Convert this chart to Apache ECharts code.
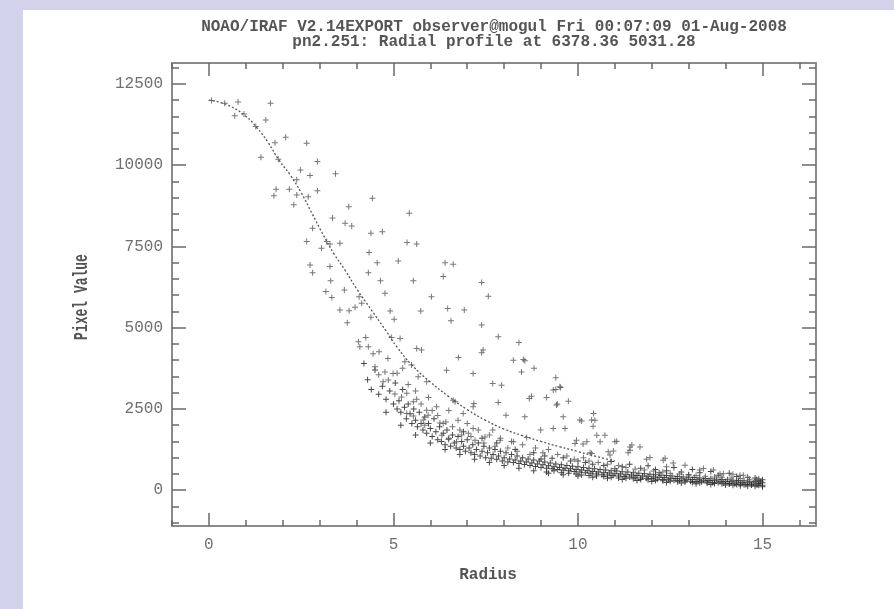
<!DOCTYPE html>
<html>
<head>
<meta charset="utf-8">
<script src="https://cdn.jsdelivr.net/npm/echarts@6/dist/echarts.min.js"></script>
<style>html,body{margin:0;padding:0;background:#d2d2ea;}#chart{width:894px;height:609px;}</style>
</head>
<body>
<div id="chart"></div>
<script>
// ---- data ----
const titleLine1 = 'NOAO/IRAF V2.14EXPORT observer@mogul Fri 00:07:09 01-Aug-2008';
const titleLine2 = 'pn2.251: Radial profile at 6378.36 5031.28';
const xAxisName = 'Radius';
const yAxisName = 'Pixel Value';
const xMajorTicks = [0, 5, 10, 15];
const xMinorTicks = [-1, 0, 1, 2, 3, 4, 5, 6, 7, 8, 9, 10, 11, 12, 13, 14, 15, 16];
const yMajorTicks = [0, 2500, 5000, 7500, 10000, 12500];
const yMinorTicks = [-1000, -500, 0, 500, 1000, 1500, 2000, 2500, 3000, 3500, 4000, 4500, 5000, 5500, 6000, 6500, 7000, 7500, 8000, 8500, 9000, 9500, 10000, 10500, 11000, 11500, 12000, 12500, 13000];

// scattered pixels (radius, value) – upper / middle part of the cloud
const outerPoints = [
[0.07,11990],[0.43,11900],[0.79,11940],[0.70,11520],[0.95,11570],[1.67,11900],[1.54,11390],[1.27,11190],
[1.79,10690],[2.08,10860],[2.65,10670],[1.41,10240],[1.88,10180],[2.94,10110],[2.48,9850],[2.74,9680],
[3.43,9730],[1.82,9260],[2.18,9260],[2.38,9550],[2.94,9210],[1.76,9060],[2.38,9080],[2.69,9030],
[2.30,8780],[3.79,8720],[4.43,8980],[3.35,8370],[3.69,8210],[3.87,8130],[2.81,8060],[4.39,7900],
[4.70,7950],[2.65,7650],[3.19,7650],[3.55,7600],[3.05,7440],[4.34,7310],[5.43,8520],[3.28,7570],
[5.37,7620],[5.63,7570],[4.56,7000],[5.13,7050],[6.40,7000],[6.62,6950],[2.74,6930],[2.81,6690],
[3.28,6880],[4.32,6690],[6.35,6570],[3.30,6440],[4.65,6440],[5.54,6440],[7.39,6390],[3.17,6110],
[3.33,5930],[3.67,6160],[4.77,6060],[4.07,5950],[6.03,5950],[7.57,5970],[3.55,5540],[3.80,5520],
[3.96,5630],[4.91,5510],[5.74,5510],[6.47,5590],[6.92,5540],[4.14,5750],[3.75,5150],[4.39,5320],
[5.02,5260],[6.56,5210],[7.39,5080],[4.95,4700],[5.18,4670],[7.84,4720],[8.40,4540],[4.05,4570],
[4.09,4410],[4.32,4410],[4.61,4260],[5.63,4360],[5.76,4310],[7.43,4310],[7.39,4230],[6.76,4080],
[8.25,4000],[8.52,4020],[8.56,3980],[4.50,3800],[4.77,3640],[4.99,3590],[5.31,3950],[5.49,3850],
[6.44,3690],[7.16,3590],[8.47,3640],[8.81,3750],[9.40,3460],[4.72,3340],[4.86,3390],[5.67,3490],
[5.90,3340],[7.69,3280],[7.93,3230],[9.40,3100],[9.53,3160],[9.33,3080],[9.51,3180],[5.04,2960],
[5.22,2870],[5.36,2980],[5.54,2720],[5.63,2800],[6.62,2770],[7.18,2670],[7.84,2700],[8.68,2820],
[8.74,2890],[9.15,2850],[9.44,2650],[9.74,2740],[9.42,2620],[5.36,2360],[5.54,2280],[5.90,2460],
[5.94,2310],[6.17,2570],[6.26,2070],[6.42,2100],[6.67,2720],[6.89,2360],[7.16,2570],[8.05,2310],
[8.56,2260],[8.99,1850],[9.33,1900],[9.65,1900],[10.05,2160],[10.37,2160],[10.42,2360],[9.60,2260],
[10.10,2130],[10.46,2150],[10.41,1970],[5.81,2160],[5.85,2000],[6.31,1690],[6.49,1560],[6.71,1490],
[6.80,1850],[7.03,1750],[7.16,1900],[7.21,1540],[7.48,1640],[7.69,1850],[7.89,1540],[8.25,1490],
[8.61,1620],[9.96,1540],[10.24,1490],[10.51,1690],[10.73,1690],[11.00,1490],[9.92,1440],[10.14,1420],
[10.37,1130],[11.46,1390],[11.68,1330],[10.87,1080],[11.36,1150],[11.86,950],[12.31,920],[12.58,840],
[12.90,770],[12.40,720],[13.30,620],[13.67,620],[13.85,510],[14.20,490],[14.48,460],[14.84,260],
[10.60,1490],[11.05,1510],[10.33,1150],[10.82,1180],[10.96,1210],[11.41,1330],[11.41,1230],[11.95,1010],
[12.36,980],[13.40,670],[13.94,510],[14.39,460],[14.84,330],
[4.25,4700],[4.45,4200],[4.6,3550],[4.85,4050],[5.1,3600],[5.25,3750],[5.4,3250],[5.6,3050],[5.75,2650],
[5.95,2850],[6.05,2450],[6.2,2300],[6.35,2050],[6.5,2450],[6.6,1950],[6.75,2150],[6.85,1700],[7.0,2050],
[7.1,1650],[7.3,1850],[7.45,1450],[7.6,1700],[7.75,1350],[7.9,1600],[8.1,1300],[8.2,1500],[8.35,1200],
[8.5,1400],[8.7,1100],[8.85,1300],[9.05,1150],[9.2,1250],[9.45,1100],[9.7,1050],[9.9,950],[10.15,1000],
[10.3,900],[10.55,850],[10.8,800],[11.1,760],[11.3,700],[11.55,650],[11.8,620],[12.05,590],[12.3,560],
[12.5,520],[12.75,500],[13.0,470],[13.2,450],[13.45,430],[13.7,410],[13.9,400],[14.15,380],[14.4,360],
[14.65,340],[14.9,350]
];

// dense lower band of the cloud
const bandPoints = [
[4.2,3900],[4.3,3400],[4.4,3100],[4.5,3700],[4.6,2950],[4.7,3200],[4.8,2800],[4.9,3050],[5.0,2650],[5.05,3300],
[5.1,2500],[5.15,2750],[5.2,2400],[5.25,3100],[5.3,2550],[5.35,2200],[5.4,2650],[5.45,2350],[5.5,2050],[5.55,2500],
[5.6,2150],[5.65,1950],[5.7,2400],[5.75,2050],[5.8,1850],[5.85,2250],[5.9,1750],[5.95,2050],[6.0,1900],[6.05,1650],
[6.1,2200],[6.15,1800],[6.2,1550],[6.25,1950],[6.3,1500],[6.35,1750],[6.4,1400],[6.45,1850],[6.5,1600],[6.55,1350],
[6.6,1700],[6.65,1450],[6.7,1300],[6.75,1650],[6.8,1250],[6.85,1500],[6.9,1350],[6.95,1200],[7.0,1550],[7.05,1300],
[7.1,1150],[7.15,1400],[7.2,1100],[7.25,1250],[7.3,1450],[7.35,1050],[7.4,1200],[7.45,1350],[7.5,1000],[7.55,1150],
[7.6,1300],[7.65,980],[7.7,1100],[7.75,1250],[7.8,950],[7.85,1050],[7.9,1200],[7.95,900],[8.0,1000],[8.05,1150],
[8.1,870],[8.15,960],[8.2,1100],[8.25,850],[8.3,930],[8.35,1050],[8.4,820],[8.45,900],[8.5,1000],[8.55,790],
[8.6,870],[8.65,960],[8.7,760],[8.75,840],[8.8,930],[8.85,730],[8.9,810],[8.95,900],[9.0,700],[9.05,780],
[9.1,870],[9.15,680],[9.2,750],[9.25,840],[9.3,660],[9.35,720],[9.4,810],[9.45,640],[9.5,700],[9.55,780],
[9.6,620],[9.65,680],[9.7,760],[9.75,600],[9.8,660],[9.85,740],[9.9,580],[9.95,640],[10.0,720],[10.05,560],
[10.1,620],[10.15,700],[10.2,540],[10.25,600],[10.3,680],[10.35,520],[10.4,580],[10.45,660],[10.5,500],[10.55,560],
[10.6,640],[10.65,480],[10.7,540],[10.75,620],[10.8,470],[10.85,530],[10.9,600],[10.95,450],[11.0,510],[11.05,590],
[11.1,440],[11.15,500],[11.2,570],[11.25,420],[11.3,480],[11.35,560],[11.4,410],[11.45,470],[11.5,540],[11.55,400],
[11.6,450],[11.65,520],[11.7,380],[11.75,440],[11.8,510],[11.85,370],[11.9,430],[11.95,490],[12.0,360],[12.05,410],
[12.1,480],[12.15,340],[12.2,400],[12.25,460],[12.3,330],[12.35,390],[12.4,450],[12.45,320],[12.5,370],[12.55,440],
[12.6,310],[12.65,360],[12.7,420],[12.75,300],[12.8,350],[12.85,410],[12.9,290],[12.95,340],[13.0,400],[13.05,280],
[13.1,330],[13.15,390],[13.2,270],[13.25,320],[13.3,380],[13.35,260],[13.4,310],[13.45,360],[13.5,250],[13.55,300],
[13.6,350],[13.65,240],[13.7,290],[13.75,340],[13.8,230],[13.85,280],[13.9,330],[13.95,220],[14.0,270],[14.05,320],
[14.1,210],[14.15,260],[14.2,310],[14.25,200],[14.3,250],[14.35,300],[14.4,190],[14.45,240],[14.5,290],[14.55,180],
[14.6,230],[14.65,280],[14.7,170],[14.75,220],[14.8,270],[14.85,160],[14.9,210],[14.95,260],[15.0,150],[15.0,230],
[15.0,320],[9.1,1050],[9.3,980],[9.6,1000],[9.8,900],[10.2,850],[10.4,800],[10.7,760],[10.9,880],[11.2,720],
[11.4,800],[11.7,680],[11.9,750],[12.1,640],[12.4,600],[12.6,700],[12.8,560],[13.1,640],[13.3,540],[13.6,580],
[13.8,460],[14.1,520],[14.3,420],[14.6,400],[14.8,380],[14.9,300],[13.0,480],[12.2,540],[11.0,660],[10.0,900],
[9.0,960],[8.8,1150],[8.3,1250],[7.8,1450],[7.4,1600],[6.9,1800],
[9.15,560],[9.35,600],[9.55,540],[9.75,520],[9.95,500],[10.1,470],[10.3,450],[10.5,440],[10.7,420],[10.9,400],
[11.1,380],[11.3,370],[11.5,350],[11.7,330],[11.9,320],[12.1,300],[12.3,290],[12.5,280],[12.7,260],[12.9,250],
[13.1,240],[13.3,230],[13.5,220],[13.7,210],[13.9,200],[14.1,190],[14.3,180],[14.5,170],[14.7,160],[14.9,150],
[15.0,110],[14.8,120],[14.6,130],[14.4,140],[14.2,150],[14.0,160],[13.6,180],[13.2,200],[12.8,220],[12.4,240],
[12.0,270],[11.6,300],[11.2,330],[10.8,370],[10.4,400],[10.0,440],[9.6,480],[9.2,520],[8.8,600],[8.4,680],
[8.0,760],[7.6,850],[7.2,950],[6.8,1100],[6.4,1250],[6.0,1450],[5.6,1700],[5.2,2000],[4.8,2400]
];

// fitted radial profile (dotted curve)
const fitCurve = [
[0,12000],[0.5,11850],[1.0,11500],[1.3,11150],[1.6,10700],[1.9,10150],[2.2,9700],[2.5,9150],[2.8,8500],
[3.1,7850],[3.4,7250],[3.7,6750],[4.0,6200],[4.4,5550],[4.8,4900],[5.1,4400],[5.5,3850],[6.0,3330],
[6.5,2880],[7.0,2480],[7.5,2150],[8.0,1880],[8.5,1680],[9.0,1500],[9.5,1340],[10.0,1190],[10.5,1040],[11.0,900]
];

// ---- chart ----
const MONO = '"Liberation Mono", "DejaVu Sans Mono", monospace';
const X_MIN = -1.0, X_MAX = 16.45, Y_MIN = -1100, Y_MAX = 13140;
const plusSymbol = 'path://M0,2.5H2.5V0H3.5V2.5H6V3.5H3.5V6H2.5V3.5H0Z';
const plain = v => String(v);

function xAx(pos, ticks, len, showLabel, showLine) {
  return {
    type: 'value', position: pos, min: X_MIN, max: X_MAX,
    axisLine: { show: showLine, onZero: false, lineStyle: { color: '#8a8a8a', width: 2 } },
    axisTick: { show: true, inside: true, length: len, customValues: ticks, lineStyle: { color: '#6a6a6a', width: 1.5 } },
    axisLabel: { show: showLabel, customValues: xMajorTicks, formatter: plain, fontFamily: MONO, fontSize: 16, color: '#6f6f6f', margin: 11 },
    splitLine: { show: false }
  };
}
function yAx(pos, ticks, len, showLabel, showLine) {
  return {
    type: 'value', position: pos, min: Y_MIN, max: Y_MAX,
    axisLine: { show: showLine, onZero: false, lineStyle: { color: '#8a8a8a', width: 2 } },
    axisTick: { show: true, inside: true, length: len, customValues: ticks, lineStyle: { color: '#6a6a6a', width: 1.5 } },
    axisLabel: { show: showLabel, customValues: yMajorTicks, formatter: plain, fontFamily: MONO, fontSize: 16, color: '#6f6f6f', margin: 9 },
    splitLine: { show: false }
  };
}

const chart = echarts.init(document.getElementById('chart'), null, { renderer: 'canvas' });
chart.setOption({
  animation: false,
  backgroundColor: '#d2d2ea',
  grid: { left: 172, top: 63, right: 78, bottom: 83, show: false },
  xAxis: [
    xAx('bottom', xMajorTicks, 13, true, true),
    xAx('bottom', xMinorTicks, 6, false, false),
    xAx('top', xMajorTicks, 13, false, true),
    xAx('top', xMinorTicks, 6, false, false)
  ],
  yAxis: [
    yAx('left', yMajorTicks, 14, true, true),
    yAx('left', yMinorTicks, 7, false, false),
    yAx('right', yMajorTicks, 14, false, true),
    yAx('right', yMinorTicks, 7, false, false)
  ],
  graphic: [
    { type: 'rect', shape: { x: 23, y: 10, width: 871, height: 599 }, style: { fill: '#ffffff' }, z: -10, silent: true },
    { type: 'text', x: 494, y: 27, style: { text: titleLine1, font: 'bold 16px ' + MONO, fill: '#555', textAlign: 'center', textVerticalAlign: 'middle' } },
    { type: 'text', x: 494, y: 42, style: { text: titleLine2, font: 'bold 16px ' + MONO, fill: '#555', textAlign: 'center', textVerticalAlign: 'middle' } },
    { type: 'text', x: 488, y: 575, style: { text: xAxisName, font: 'bold 16px ' + MONO, fill: '#555', textAlign: 'center', textVerticalAlign: 'middle' } },
    { type: 'text', x: 82, y: 297, rotation: Math.PI / 2, scaleY: 1.5, style: { text: yAxisName, font: 'bold 13px ' + MONO, fill: '#555', textAlign: 'center', textVerticalAlign: 'middle' } }
  ],
  series: [
    { type: 'scatter', data: bandPoints, symbol: plusSymbol, symbolSize: 6, itemStyle: { color: '#2a2a2a', opacity: 0.85 }, xAxisIndex: 0, yAxisIndex: 0 },
    { type: 'scatter', data: outerPoints, symbol: plusSymbol, symbolSize: 6, itemStyle: { color: '#555', opacity: 0.8 }, xAxisIndex: 0, yAxisIndex: 0 },
    { type: 'line', data: fitCurve, smooth: true, showSymbol: false, xAxisIndex: 0, yAxisIndex: 0,
      lineStyle: { color: '#555', width: 1.3, type: [2, 2] } }
  ]
});
</script>
</body>
</html>
